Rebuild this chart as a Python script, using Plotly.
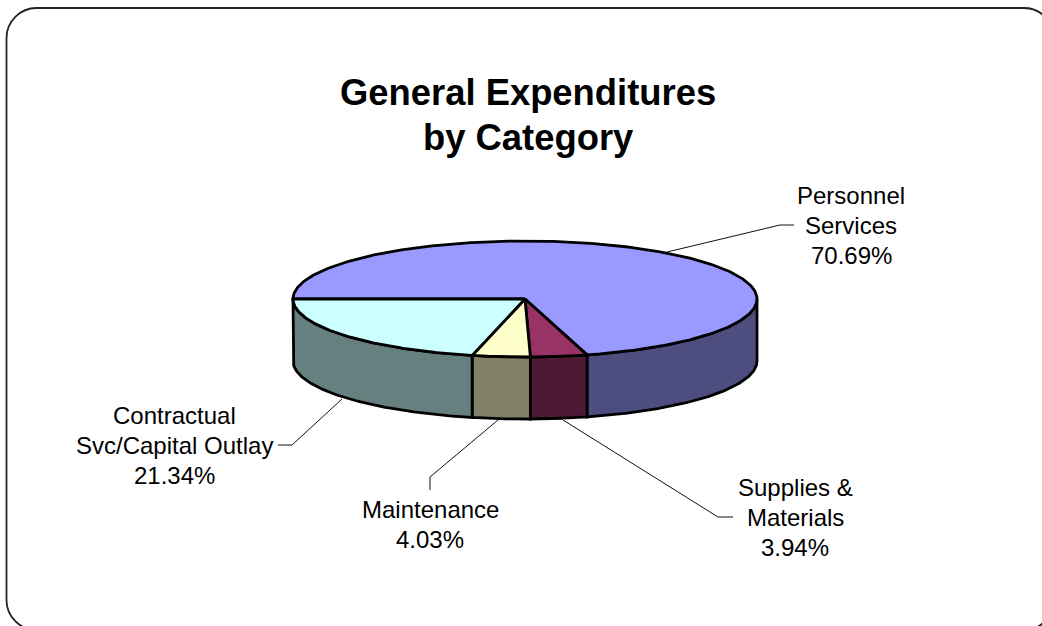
import numpy as np
import plotly.graph_objects as go

# Expenditure shares, in drawing order (clockwise from the 9 o'clock position)
categories = ["Personnel Services", "Supplies & Materials", "Maintenance", "Contractual Svc/Capital Outlay"]
shares = [70.69, 3.94, 4.03, 21.34]
label_names = [["Personnel", "Services"], ["Supplies &", "Materials"], ["Maintenance"], ["Contractual", "Svc/Capital Outlay"]]
top_colors = ["#9999FF", "#993366", "#FFFFCC", "#CCFFFF"]
side_colors = ["#4D4D80", "#4D1A33", "#808066", "#668080"]
title_lines = ["General Expenditures", "by Category"]

WIDTH, HEIGHT = 1042, 626
CX, CY, RX, RY, DEPTH = 525, 299, 232, 58, 62
FONT = "Liberation Sans, Arial, sans-serif"

# Label blocks: centre x, first-line y, line pitch; leader polylines
label_layout = [
    dict(x=851, y=195, pitch=30, leader=([667, 780, 794], [252, 225, 225])),
    dict(x=795, y=487, pitch=30, leader=([563, 718, 733], [420, 517, 517])),
    dict(x=430, y=509, pitch=30, leader=([498, 430, 430], [420, 477, 490])),
    dict(x=174, y=415, pitch=30, leader=([342, 292, 278], [399, 445, 445])),
]


def ellipse(theta, depth=0.0):
    return CX + RX * np.cos(theta), CY - RY * np.sin(theta) + depth


fig = go.Figure()


def polygon(xs, ys, fill):
    fig.add_trace(go.Scatter(
        x=xs, y=ys, mode="lines", fill="toself", fillcolor=fill,
        line=dict(color="black", width=2.8), hoverinfo="skip", showlegend=False,
    ))


# Slice boundaries: angles run clockwise starting at 180 degrees
edges = np.pi - np.cumsum([0] + shares) / sum(shares) * 2 * np.pi

# Side walls: only the part of the rim below the horizontal axis is visible
for i in range(len(shares)):
    a0, a1 = edges[i], edges[i + 1]
    lo, hi = min(a0, 0.0), min(a1, 0.0)
    t = np.linspace(lo, hi, 120)
    xt, yt = ellipse(t)
    xb, yb = ellipse(t[::-1], DEPTH)
    polygon(np.r_[xt, xb, xt[0]], np.r_[yt, yb, yt[0]], side_colors[i])

# Top face sectors
for i in range(len(shares)):
    t = np.linspace(edges[i], edges[i + 1], 300)
    xt, yt = ellipse(t)
    polygon(np.r_[CX, xt, CX], np.r_[CY, yt, CY], top_colors[i])

# Leader lines
for spec in label_layout:
    fig.add_trace(go.Scatter(
        x=spec["leader"][0], y=spec["leader"][1], mode="lines",
        line=dict(color="#111111", width=1), hoverinfo="skip", showlegend=False,
    ))

annotations = []


def add_text(x, y, text, size, bold=False):
    annotations.append(dict(
        x=x, y=y, xref="x", yref="y", text=f"<b>{text}</b>" if bold else text,
        showarrow=False, xanchor="center", yanchor="middle",
        font=dict(family=FONT, size=size, color="black"),
    ))


# Category labels with their percentages
for names, share, spec in zip(label_names, shares, label_layout):
    lines = names + [f"{share:.2f}%"]
    for k, line in enumerate(lines):
        add_text(spec["x"], spec["y"] + k * spec["pitch"], line, 24)

# Title
add_text(528, 92, title_lines[0], 36.4, bold=True)
add_text(528, 137, title_lines[1], 36.4, bold=True)

# Rounded frame, partly running off the page
L, T, R, B, r = 6.5, 8, 1054, 630, 30
k = r * 0.45
frame = (
    f"M {L + r} {T} L {R - r} {T} C {R - k} {T} {R} {T + k} {R} {T + r} L {R} {B - r} "
    f"C {R} {B - k} {R - k} {B} {R - r} {B} L {L + r} {B} C {L + k} {B} {L} {B - k} {L} {B - r} "
    f"L {L} {T + r} C {L} {T + k} {L + k} {T} {L + r} {T} Z"
)

fig.update_layout(
    width=WIDTH, height=HEIGHT,
    margin=dict(l=0, r=0, t=0, b=0),
    paper_bgcolor="white", plot_bgcolor="white",
    showlegend=False,
    xaxis=dict(range=[0, WIDTH], visible=False, fixedrange=True),
    yaxis=dict(range=[HEIGHT, 0], visible=False, fixedrange=True),
    annotations=annotations,
    shapes=[dict(type="path", path=frame, xref="x", yref="y",
                 line=dict(color="#222222", width=1.8), layer="below")],
)

fig.write_html("out.html", config={"displayModeBar": False, "responsive": False})
